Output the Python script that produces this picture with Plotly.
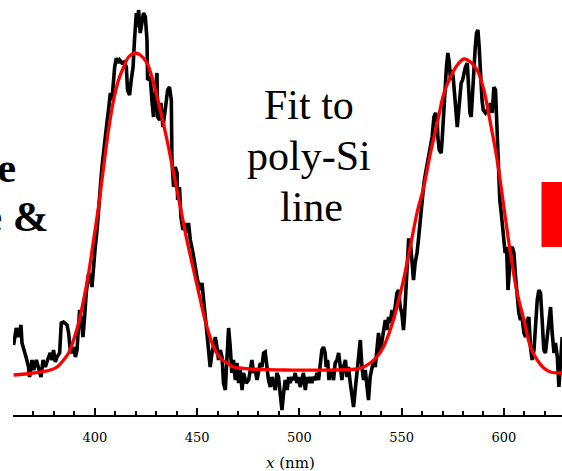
import plotly.graph_objects as go

# Measured spectrum (black): wavelength in nm, intensity in arbitrary units
wl_data = [360.3, 361.6, 362.6, 363.9, 364.4, 365.2, 366.5, 367.6, 368.1, 369.3, 370.1, 371.4, 372.5, 373.7, 374.7,
           375.8, 376.9, 378.2, 379.1, 379.8, 380.7, 381.5, 382.8, 383.6, 384.7, 386.4, 387.2, 388.0, 388.8, 389.6,
           390.5, 391.3, 391.8, 392.6, 393.4, 394.2, 395.0, 395.8, 397.0, 397.8, 398.6, 399.1, 400.2, 401.1, 401.8,
           402.7, 403.5, 404.3, 405.1, 405.9, 406.7, 407.6, 408.4, 408.9, 409.7, 410.5, 411.3, 412.1, 413.3, 414.4,
           415.4, 416.0, 417.0, 417.8, 418.7, 419.4, 420.3, 420.9, 421.4, 422.2, 423.1, 423.8, 424.7, 425.5, 425.8,
           427.1, 427.9, 428.7, 429.6, 430.4, 430.7, 431.7, 432.3, 433.3, 434.4, 435.6, 436.5, 437.4, 437.7, 438.5,
           439.3, 440.2, 440.5, 441.4, 442.1, 443.1, 444.2, 445.1, 445.8, 446.7, 448.0, 449.1, 450.2, 451.6, 452.4,
           453.2, 454.0, 454.8, 455.6, 456.4, 457.3, 458.1, 458.9, 459.7, 460.5, 461.3, 462.2, 462.9, 463.8, 464.3,
           464.9, 465.4, 466.2, 467.0, 467.8, 468.7, 469.5, 470.3, 471.1, 472.0, 472.7, 474.0, 475.2, 476.0, 476.8,
           477.6, 478.4, 479.3, 480.0, 480.9, 481.7, 482.5, 483.3, 484.2, 484.9, 485.8, 486.6, 487.4, 488.2, 489.0,
           489.8, 490.6, 491.5, 492.3, 493.1, 494.0, 494.8, 495.5, 496.4, 497.2, 498.0, 498.8, 499.6, 500.4, 501.3,
           502.0, 502.9, 503.7, 504.5, 505.3, 506.1, 506.9, 507.8, 508.6, 509.4, 510.2, 511.0, 511.8, 512.6, 513.1,
           513.8, 514.5, 515.1, 515.9, 516.7, 517.5, 518.4, 519.2, 520.0, 520.8, 521.6, 522.5, 523.3, 524.0, 524.9,
           525.7, 526.5, 527.3, 528.1, 528.9, 529.8, 530.6, 531.4, 532.2, 533.0, 533.8, 534.6, 535.5, 536.3, 537.1,
           537.9, 538.7, 539.5, 540.4, 541.1, 542.0, 542.8, 543.6, 544.4, 545.3, 546.0, 546.9, 547.7, 548.5, 549.3,
           550.1, 550.9, 551.4, 552.1, 552.9, 553.4, 554.2, 555.0, 555.8, 556.6, 557.5, 558.2, 559.2, 560.1, 560.9,
           561.7, 562.5, 563.3, 564.1, 564.9, 565.8, 566.6, 567.4, 567.7, 568.4, 569.3, 569.8, 570.3, 571.0, 571.4,
           571.9, 572.6, 573.3, 573.9, 574.6, 575.2, 575.8, 576.5, 577.2, 577.8, 578.5, 579.1, 579.8, 580.4, 581.2,
           582.1, 582.7, 583.4, 584.0, 584.6, 585.3, 586.0, 586.6, 587.3, 587.9, 588.6, 589.3, 589.9, 591.0, 591.8,
           592.7, 593.4, 594.3, 595.1, 595.9, 596.4, 597.1, 597.6, 598.0, 598.7, 599.3, 600.0, 600.6, 601.3, 602.0,
           602.6, 603.2, 604.1, 604.9, 605.7, 606.5, 607.3, 608.1, 608.9, 609.8, 610.6, 611.4, 612.2, 613.0, 613.8,
           614.7, 615.4, 616.3, 617.1, 617.9, 618.7, 619.5, 620.3, 621.2, 622.0, 622.8, 623.6, 624.5, 625.2, 626.1,
           626.9, 627.7, 628.5]
int_data = [70, 87, 78, 90, 72, 65, 57, 48, 38, 55, 45, 55, 48, 38, 55,
            48, 55, 62, 55, 65, 53, 58, 62, 92, 93, 90, 82, 65, 62, 68,
            58, 65, 82, 105, 95, 78, 98, 122, 142, 138, 128, 142, 168, 185, 208,
            228, 248, 265, 282, 292, 305, 322, 315, 328, 348, 357, 352, 355, 352, 353,
            348, 325, 320, 335, 348, 375, 402, 388, 405, 382, 395, 402, 398, 375, 335,
            338, 315, 298, 325, 342, 298, 295, 312, 288, 305, 325, 328, 315, 255, 228,
            248, 242, 215, 228, 198, 185, 192, 182, 192, 175, 162, 148, 135, 125, 132,
            115, 102, 82, 65, 48, 62, 72, 78, 68, 55, 65, 58, 32, 25, 45,
            82, 87, 68, 42, 55, 35, 52, 32, 45, 25, 42, 32, 35, 48, 55,
            42, 45, 35, 42, 52, 48, 62, 63, 48, 35, 28, 38, 32, 25, 42,
            38, 22, 5, 22, 35, 25, 38, 32, 38, 35, 42, 32, 38, 28, 35,
            42, 25, 38, 32, 38, 32, 38, 35, 42, 35, 48, 65, 68, 62, 48,
            55, 35, 45, 42, 35, 52, 55, 62, 45, 35, 48, 55, 38, 48, 32,
            18, 8, 25, 42, 62, 75, 48, 35, 45, 28, 15, 38, 48, 55, 48,
            65, 82, 62, 75, 88, 95, 85, 98, 92, 105, 95, 108, 122, 125, 108,
            102, 85, 98, 132, 162, 175, 175, 148, 135, 152, 162, 175, 198, 218, 232,
            242, 252, 262, 272, 278, 298, 302, 295, 278, 265, 262, 275, 295, 315, 332,
            348, 362, 352, 335, 345, 338, 325, 312, 288, 302, 322, 332, 335, 342, 348,
            352, 328, 302, 298, 322, 348, 368, 382, 385, 368, 332, 315, 305, 302, 305,
            302, 312, 302, 328, 325, 298, 268, 228, 215, 202, 188, 175, 162, 168, 125,
            142, 165, 168, 162, 138, 115, 102, 95, 98, 82, 78, 95, 98, 68, 55,
            65, 95, 115, 125, 122, 95, 65, 62, 82, 98, 108, 82, 62, 72, 58,
            28, 48, 78]

# Fit to poly-Si line (red)
wl_fit = [360.3, 370.1, 378.2, 381.5, 384.7, 387.2, 389.6, 392.1, 394.5, 397.0, 399.4, 401.8, 404.3, 406.7, 409.2,
          411.6, 414.1, 416.5, 419.8, 422.2, 425.5, 428.7, 432.0, 435.3, 438.5, 441.8, 445.0, 448.3, 451.6, 454.8,
          458.1, 461.3, 464.6, 467.8, 471.1, 476.0, 493.1, 528.1, 531.4, 534.6, 537.9, 541.1, 544.4, 547.7, 550.9,
          554.2, 557.5, 560.8, 564.1, 567.4, 570.7, 573.9, 577.2, 580.4, 583.7, 586.9, 590.2, 593.4, 596.7, 600.0,
          603.2, 606.5, 609.8, 613.0, 616.3, 619.5, 622.8, 628.5]
int_fit = [40, 42, 45, 48, 55, 62, 75, 92, 115, 142, 175, 208, 248, 285, 315,
           335, 348, 358, 362, 360, 352, 332, 305, 275, 242, 208, 175, 145, 115, 88,
           68, 57, 52, 48, 47, 46, 45, 46, 48, 52, 58, 68, 85, 108, 135,
           168, 202, 228, 262, 292, 322, 338, 350, 356, 353, 345, 325, 292, 255, 208,
           162, 122, 95, 68, 55, 47, 43, 42]

tick_vals = [400, 450, 500, 550, 600]
tick_text = ["400", "450", "500", "550", "600"]

W, H = 562, 471
L, R, T, B = 13, 0, 0, 56
PW, PH = W - L - R, H - T - B

def px(xp):
    return (xp - L) / PW

def py(yp):
    return 1 - (yp - T) / PH

fig = go.Figure()
fig.add_trace(go.Scatter(x=wl_data, y=int_data, mode="lines",
                         line=dict(color="black", width=3.6), showlegend=False))
fig.add_trace(go.Scatter(x=wl_fit, y=int_fit, mode="lines", line_shape="spline",
                         line=dict(color="#ff0000", width=3.3), showlegend=False))

fig.update_layout(
    width=W, height=H,
    margin=dict(l=L, r=R, t=T, b=B, pad=0),
    paper_bgcolor="white", plot_bgcolor="white",
    xaxis=dict(range=[360, 628.4], showgrid=False, zeroline=False,
               showline=True, linecolor="black", linewidth=2,
               ticks="inside", ticklen=7, tickwidth=2, tickcolor="black",
               tickvals=tick_vals, ticktext=tick_text, ticklabelstandoff=9,
               tickfont=dict(family="DejaVu Serif", size=13, color="black"),
               minor=dict(dtick=10, tick0=360, ticks="inside", ticklen=4, tickwidth=2, tickcolor="black")),
    yaxis=dict(range=[0, 415], visible=False),
)

serif = "Liberation Serif"
for txt, cx, cy in [("Fit to", 309, 105), ("poly-Si", 309, 156), ("line", 311, 207)]:
    fig.add_annotation(text=txt, xref="paper", yref="paper", x=px(cx), y=py(cy),
                       xanchor="center", yanchor="middle", showarrow=False,
                       font=dict(family=serif, size=42, color="black"))

fig.add_annotation(text="<b>e</b>", xref="paper", yref="paper", x=px(18), y=py(167),
                   xanchor="right", yanchor="middle", showarrow=False,
                   font=dict(family=serif, size=43, color="black"))
fig.add_annotation(text="<b>e &amp;</b>", xref="paper", yref="paper", x=px(51), y=py(216),
                   xanchor="right", yanchor="middle", showarrow=False,
                   font=dict(family=serif, size=43, color="black"))

fig.add_annotation(text="<i>x</i> (nm)", xref="paper", yref="paper", x=px(290), y=py(463),
                   xanchor="center", yanchor="middle", showarrow=False,
                   font=dict(family="DejaVu Serif", size=15, color="black"))

fig.add_shape(type="rect", xref="paper", yref="paper", x0=px(541.5), x1=px(570),
              y0=py(247), y1=py(182), fillcolor="#ff0000", line=dict(width=0), layer="above")

fig.write_html("out.html")
